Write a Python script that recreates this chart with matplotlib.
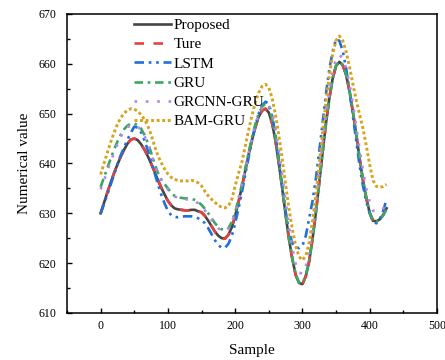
import matplotlib
matplotlib.use("Agg")
import matplotlib.pyplot as plt
from matplotlib.ticker import MultipleLocator

plt.rcParams['font.family'] = ['Liberation Serif', 'DejaVu Serif']

sample = list(range(0, 430, 5))

proposed = [630.0, 632.1, 634.2, 636.2, 638.1, 639.8, 641.4, 642.8, 644.0, 644.8,
            645.0, 644.7, 643.9, 642.8, 641.5, 640.0, 638.4, 636.7, 635.2, 633.8,
            632.5, 631.6, 631.0, 630.8, 630.7, 630.6, 630.6, 630.7, 630.7, 630.4,
            630.2, 629.5, 628.5, 627.4, 626.3, 625.5, 625.0, 625.0, 625.7, 627.2,
            629.5, 632.3, 635.3, 638.6, 641.8, 644.7, 647.3, 649.4, 650.6, 651.0,
            650.2, 648.0, 644.5, 639.9, 634.9, 629.7, 624.8, 620.8, 617.6, 616.0,
            615.8, 617.4, 620.4, 624.9, 630.2, 636.2, 642.3, 648.1, 653.1, 657.1,
            659.6, 660.4, 659.7, 657.7, 654.5, 650.3, 645.8, 641.0, 636.6, 633.0,
            630.1, 628.5, 628.4, 628.8, 629.7, 631.0]

ture = [630.0, 632.1, 634.2, 636.2, 638.1, 639.8, 641.4, 642.8, 644.0, 644.8,
        645.0, 644.7, 643.9, 642.8, 641.5, 640.0, 638.4, 636.7, 635.2, 633.8,
        632.5, 631.6, 631.0, 630.8, 630.7, 630.6, 630.6, 630.7, 630.7, 630.4,
        630.2, 629.5, 628.5, 627.4, 626.3, 625.4, 624.9, 624.9, 625.7, 627.2,
        629.5, 632.3, 635.3, 638.6, 641.8, 644.7, 647.3, 649.4, 650.6, 651.0,
        650.2, 648.0, 644.5, 639.9, 634.9, 629.7, 624.8, 620.8, 617.6, 616.0,
        615.8, 617.4, 620.4, 624.9, 630.2, 636.2, 642.3, 648.1, 653.1, 657.1,
        659.6, 660.4, 659.7, 657.7, 654.5, 650.3, 645.8, 641.0, 636.6, 633.0,
        630.1, 628.5, 628.4, 628.8, 629.7, 631.0]

lstm = [630.0, 631.9, 633.8, 635.8, 637.8, 639.8, 641.7, 643.3, 644.8, 646.2,
        647.4, 647.2, 646.3, 644.7, 642.7, 640.5, 638.2, 635.9, 633.8, 632.0,
        630.5, 629.6, 629.3, 629.2, 629.3, 629.4, 629.4, 629.4, 629.3, 629.0,
        628.7, 628.0, 627.0, 625.8, 624.6, 623.6, 623.1, 623.1, 623.9, 625.5,
        628.0, 631.0, 634.2, 637.8, 641.3, 644.7, 647.6, 650.0, 651.6, 652.4,
        652.0, 649.5, 645.8, 640.8, 635.5, 630.4, 626.3, 624.0, 623.2, 623.0,
        623.5, 625.5, 629.0, 632.5, 637.0, 642.5, 648.2, 654.0, 659.0, 662.5,
        665.0, 664.6, 662.5, 659.0, 654.5, 649.5, 644.5, 639.5, 635.5, 632.3,
        630.0, 628.3, 628.0, 628.8, 630.5, 632.8]

gru = [635.3, 637.2, 639.1, 641.0, 642.8, 644.4, 645.8, 646.9, 647.6, 648.0,
       648.0, 647.7, 647.0, 645.8, 644.2, 642.2, 640.0, 638.2, 636.8, 635.9,
       635.0, 634.1, 633.5, 633.2, 633.1, 633.0, 633.0, 632.9, 632.7, 632.3,
       631.7, 630.9, 630.0, 629.0, 628.0, 627.3, 626.8, 626.6, 627.0, 628.3,
       630.2, 632.9, 635.8, 639.0, 642.2, 645.3, 647.9, 650.0, 651.4, 652.0,
       651.3, 649.0, 645.3, 640.5, 635.3, 630.0, 625.0, 620.9, 617.7, 616.1,
       615.9, 617.5, 620.5, 625.0, 630.3, 636.3, 642.4, 648.2, 653.2, 657.2,
       659.7, 660.5, 659.8, 657.8, 654.6, 650.4, 645.9, 641.1, 636.7, 633.0,
       630.1, 628.5, 628.3, 628.7, 629.6, 630.8]

grcnn_gru = [634.8, 636.6, 638.5, 640.4, 642.2, 643.9, 645.4, 646.6, 647.3, 647.6,
             647.5, 647.4, 646.8, 645.6, 644.0, 642.0, 639.9, 638.1, 636.7, 635.7,
             634.8, 634.0, 633.4, 633.1, 632.9, 632.8, 632.8, 632.7, 632.5, 632.0,
             631.4, 630.6, 629.7, 628.7, 627.8, 627.0, 626.5, 626.4, 626.9, 628.2,
             630.1, 632.8, 635.7, 638.9, 642.1, 645.1, 647.7, 649.8, 651.2, 651.9,
             651.7, 650.0, 646.8, 642.4, 637.5, 632.3, 627.4, 623.0, 619.8, 618.1,
             617.9, 619.4, 622.4, 626.8, 632.1, 638.0, 644.0, 649.7, 654.6, 658.5,
             661.0, 661.8, 661.1, 659.1, 656.0, 651.9, 647.4, 642.8, 638.5, 634.9,
             632.1, 630.5, 630.3, 630.6, 631.0, 631.6]

bam_gru = [637.8, 640.0, 642.2, 644.3, 646.2, 647.9, 649.2, 650.1, 650.7, 651.0,
           650.9, 650.5, 649.8, 648.9, 647.6, 645.8, 643.6, 641.6, 640.2, 638.9,
           637.9, 637.2, 636.8, 636.6, 636.5, 636.5, 636.5, 636.6, 636.5, 636.1,
           635.5, 634.4, 633.5, 632.8, 632.2, 631.6, 631.2, 631.1, 631.5, 632.8,
           635.5, 638.0, 640.3, 643.5, 646.7, 649.7, 652.3, 654.2, 655.5, 655.9,
           655.2, 653.1, 649.7, 645.6, 640.8, 635.7, 630.9, 626.8, 623.4, 621.3,
           620.6, 621.5, 624.2, 628.5, 633.7, 639.9, 646.3, 652.5, 657.7, 662.0,
           664.7, 665.6, 664.6, 662.4, 659.4, 655.9, 652.7, 649.8, 647.0, 643.5,
           639.7, 636.6, 635.4, 635.2, 635.4, 635.8]

series_names = ["Proposed", "Ture", "LSTM", "GRU", "GRCNN-GRU", "BAM-GRU"]

fig = plt.figure(figsize=(4.45, 3.6), dpi=100)
ax = fig.add_axes([67/445, 1-313/360, 370/445, 299/360])

ax.plot(sample, proposed, color='#454545', lw=1.9, ls='-', label=series_names[0])
ax.plot(sample, ture, color='#e8403e', lw=1.9, dashes=(3.6, 3.6), label=series_names[1])
ax.plot(sample, lstm, color='#1f6fdc', lw=1.9, dashes=(3.6, 1.8, 1, 1.8, 1, 1.8), label=series_names[2])
ax.plot(sample, gru, color='#3aa862', lw=1.9, dashes=(3.2, 1.8, 1, 1.8), label=series_names[3])
ax.plot(sample, grcnn_gru, color='#b586e6', lw=1.9, dashes=(1, 3.3), label=series_names[4])
ax.plot(sample, bam_gru, color='#d9a21b', lw=2.1, dashes=(1, 0.9), label=series_names[5])

ax.set_xlim(-50, 500)
ax.set_ylim(610, 670)
ax.xaxis.set_major_locator(MultipleLocator(100))
ax.xaxis.set_minor_locator(MultipleLocator(50))
ax.yaxis.set_major_locator(MultipleLocator(10))
ax.yaxis.set_minor_locator(MultipleLocator(5))
ax.tick_params(which='both', direction='in', labelsize=8.6, width=1)
ax.tick_params(which='major', length=3.5)
ax.tick_params(which='minor', length=2)
ax.tick_params(axis='y', which='major', pad=8)
ax.tick_params(axis='x', which='major', pad=5)
ax.tick_params(axis='both', which='both', top=False, right=False)
for sp in ax.spines.values():
    sp.set_linewidth(1.1)

ax.set_xlabel("Sample", fontsize=11, labelpad=9)
ax.set_ylabel("Numerical value", fontsize=11, labelpad=5)

ax.legend(loc='upper left', bbox_to_anchor=(0.17, 1.0), frameon=False,
          fontsize=11, handlelength=2.4, handletextpad=0.15, labelspacing=0.36,
          borderaxespad=0.2, borderpad=0.1)

fig.savefig("out.png", dpi=100)
